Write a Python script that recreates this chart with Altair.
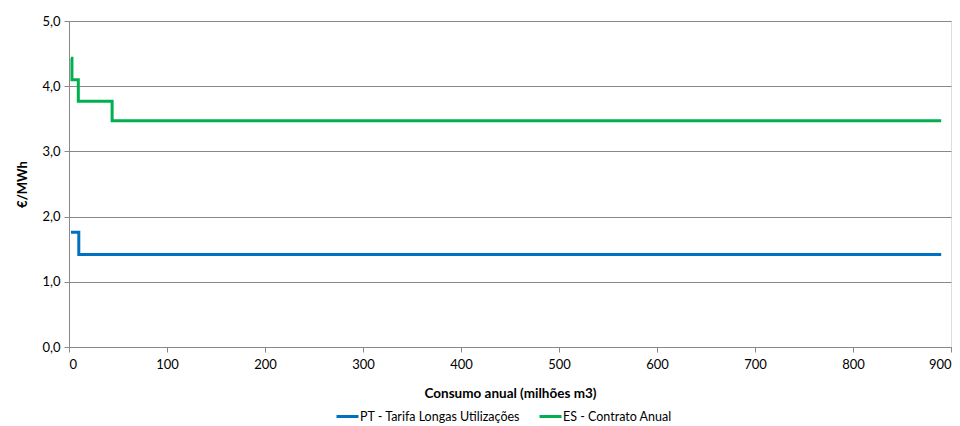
import altair as alt
import pandas as pd

series_names = ["PT - Tarifa Longas Utilizações", "ES - Contrato Anual"]
colors = ["#0070C0", "#00B050"]

pt_x = [2, 10, 890]
pt_y = [1.76, 1.42, 1.42]

es_x = [2, 3, 9.5, 44, 890]
es_y = [4.43, 4.10, 3.77, 3.47, 3.47]

rows = []
for x, y in zip(pt_x, pt_y):
    rows.append({"consumo": x, "valor": y, "serie": series_names[0], "ord": 0})
for x, y in zip(es_x, es_y):
    rows.append({"consumo": x, "valor": y, "serie": series_names[1], "ord": 1})
df = pd.DataFrame(rows)

font = "Lato"

chart = alt.Chart(df).mark_line(strokeWidth=3, interpolate="step-after").encode(
    x=alt.X("consumo:Q", title="Consumo anual (milhões m3)",
            scale=alt.Scale(domain=[0, 900], nice=False, zero=True),
            axis=alt.Axis(values=list(range(0, 901, 100)), grid=False, tickSize=5,
                          domainColor="#888888", tickColor="#888888",
                          labelFontSize=13, labelColor="#000000", labelPadding=6,
                          titleFontSize=13.5, titleFontWeight="bold", titlePadding=15,
                          titleColor="#000000", labelFont=font, titleFont=font)),
    y=alt.Y("valor:Q", title="€/MWh",
            scale=alt.Scale(domain=[0, 5], nice=False),
            axis=alt.Axis(values=[0, 1, 2, 3, 4, 5], tickSize=5, gridColor="#888888",
                          domainColor="#888888", tickColor="#888888",
                          labelExpr="replace(format(datum.value, '.1f'), '.', ',')",
                          labelFontSize=13, labelColor="#000000", labelPadding=4,
                          titleFontSize=13, titleFontWeight="bold", titlePadding=12,
                          titleColor="#000000", labelFont=font, titleFont=font)),
    color=alt.Color("serie:N", title=None,
                    scale=alt.Scale(domain=series_names, range=colors),
                    legend=alt.Legend(orient="none", legendX=266, legendY=383,
                                      direction="horizontal", symbolType="stroke",
                                      symbolSize=484, symbolStrokeWidth=3,
                                      labelFontSize=12.5, labelFont=font,
                                      labelColor="#000000", columnPadding=12,
                                      labelLimit=400,
                                      symbolOffset=0, labelOffset=0)),
    detail="ord:N",
).properties(
    width=882, height=326,
    autosize=alt.AutoSizeParams(type="none"),
    padding={"left": 61, "top": 13, "right": 1, "bottom": 78},
).configure_view(stroke=None).configure(background="#ffffff")

chart.save("out.html", embed_options={"renderer": "svg", "actions": False})
